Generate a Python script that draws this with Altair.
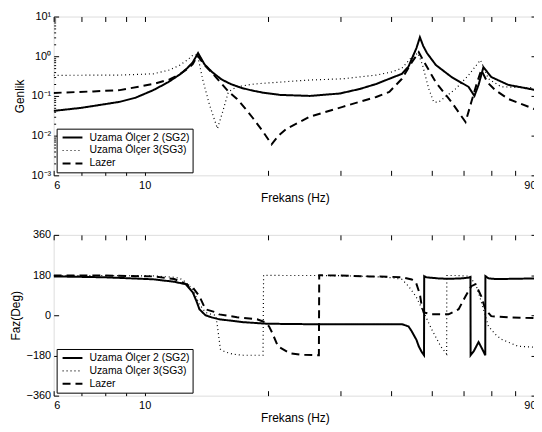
import altair as alt
import pandas as pd

SERIES = ["Uzama Ölçer 2 (SG2)", "Uzama Ölçer 3(SG3)", "Lazer"]

# ---------------- magnitude (Genlik) ----------------
mag_f_sg2 = [6.0, 7.0, 8.0, 8.7, 9.5, 10.5, 11.4, 12.2, 12.7, 13.1, 13.5, 14.0, 14.6, 15.4, 16.2, 17.2,
             18.1, 19.5, 21.4, 25.3, 29.9, 33.5, 36.7, 39.5, 42.4, 44.0, 44.8, 46.0, 46.9, 47.8, 48.8,
             51.3, 56.0, 61.6, 63.7, 65.2, 67.0, 70.0, 77.0, 90.0]
mag_sg2 = [0.042, 0.050, 0.062, 0.071, 0.090, 0.14, 0.22, 0.35, 0.50, 0.70, 1.2, 0.62, 0.40, 0.26, 0.20, 0.16,
           0.14, 0.12, 0.106, 0.10, 0.115, 0.15, 0.20, 0.27, 0.36, 0.55, 0.85, 1.6, 3.0, 1.8, 1.2,
           0.6, 0.30, 0.17, 0.10, 0.19, 0.53, 0.30, 0.19, 0.14]

mag_f_sg3 = [6.0, 8.7, 10.5, 11.5, 12.2, 12.8, 13.1, 13.45, 13.84, 14.39, 15.05, 15.5, 16.0, 16.8, 18.5,
             21.0, 25.0, 30.4, 36.7, 40.0, 42.4, 44.8, 46.4, 47.6, 49.3, 50.7, 52.1, 54.5, 57.3, 61.6,
             64.0, 65.9, 67.5, 68.9, 74.0, 80.0, 90.0]
mag_sg3 = [0.33, 0.335, 0.36, 0.45, 0.60, 0.85, 1.06, 1.1, 0.27, 0.06, 0.015, 0.04, 0.126, 0.17, 0.20,
           0.22, 0.25, 0.27, 0.335, 0.40, 0.50, 0.95, 1.2, 0.6, 0.15, 0.07, 0.07, 0.10, 0.15, 0.33,
           0.55, 0.80, 0.45, 0.27, 0.17, 0.165, 0.16]

mag_f_lz = [6.0, 7.5, 8.7, 10.5, 11.5, 12.2, 12.8, 13.1, 13.45, 14.0, 14.6, 15.3, 16.0, 16.8, 17.6, 18.4,
            19.4, 20.4, 21.2, 22.2, 25.3, 30.4, 35.3, 36.7, 39.5, 42.4, 44.8, 46.6, 48.5, 51.3, 56.0,
            60.6, 62.6, 64.5, 66.2, 68.5, 71.6, 77.0, 90.0]
mag_lz = [0.119, 0.13, 0.14, 0.20, 0.26, 0.355, 0.50, 0.63, 1.05, 0.60, 0.38, 0.22, 0.13, 0.084, 0.048, 0.027,
          0.013, 0.006, 0.010, 0.015, 0.030, 0.053, 0.084, 0.094, 0.126, 0.27, 0.70, 1.26, 0.60, 0.22, 0.07,
          0.022, 0.07, 0.20, 0.45, 0.22, 0.14, 0.084, 0.045]

# ---------------- phase (Faz) ----------------
ph_f_sg2 = [6.0, 8.0, 10.5, 11.8, 12.6, 13.1, 13.4, 13.6, 14.07, 14.6, 15.2, 17.4, 19.9, 25.0, 35.3, 42.4,
            44.0, 44.8, 46.0, 46.6, 47.4, 48.0, 48.05, 48.6, 52.0, 55.0, 59.0, 61.5, 62.3, 62.35, 63.5,
            65.2, 66.5, 67.7, 67.75, 69.0, 72.0, 90.0]
ph_sg2 = [174, 170, 161, 150, 139, 103, 60, 27, 0, -10, -18, -31, -38, -40, -40, -40,
          -50, -72, -110, -139, -165, -179, 175, 170, 165, 163, 165, 168, 172, -179, -160,
          -120, -150, -179, 175, 165, 162, 165]

ph_f_sg3 = [6.0, 8.0, 10.5, 11.8, 12.2, 12.6, 13.1, 13.6, 14.07, 14.6, 14.9, 15.05, 15.3, 15.74, 16.5,
            17.4, 19.44, 19.5, 22.0, 26.0, 30.0, 35.3, 40.0, 42.4, 44.0, 45.85, 47.94, 50.1, 52.7, 54.5,
            54.55, 58.0, 61.5, 62.3, 64.4, 66.2, 67.7, 68.9, 71.6, 74.0, 81.4, 90.0]
ph_sg3 = [178, 178, 176, 170, 165, 148, 116, 49, 13, 3, 0, -50, -152, -165, -175,
          -179, -179, 179, 178, 178, 177, 174, 168, 161, 130, 85, 13, -63, -139, -174,
          178, 178, 175, 170, 130, 60, 0, -49, -85, -107, -139, -143]

ph_f_lz = [6.0, 8.0, 10.5, 11.8, 12.2, 13.1, 13.6, 14.07, 14.9, 15.2, 16.8, 18.8, 19.66, 20.1, 20.44,
           21.14, 22.6, 24.0, 26.3, 26.6, 26.65, 30.0, 35.3, 40.0, 42.4, 44.8, 45.85, 46.9, 47.4, 47.9,
           50.1, 55.1, 58.3, 60.6, 62.6, 64.1, 66.2, 67.7, 70.0, 78.0, 90.0]
ph_lz = [178, 178, 174, 162, 152, 125, 85, 27, 13, 4, -9, -18, -31, -50, -76,
         -139, -170, -177, -179, -179, 179, 178, 174, 172, 170, 160, 148, 94, 40, 13,
         4, 4, 27, 85, 130, 139, 85, 27, -4, -10, -13]

# ---------------- ticks ----------------
x_tick_values = [6, 7, 8, 9, 10, 20, 30, 40, 50, 60, 70, 80, 90]
x_label_values = [6, 10, 90]
mag_tick_values = [0.001, 0.01, 0.1, 1, 10]
mag_tick_labels = ["10⁻³", "10⁻²", "10⁻¹", "10⁰", "10¹"]
minor_mult = [2, 3, 4, 5, 6, 7, 8, 9]
minor_decades = [0.001, 0.01, 0.1, 1]
ph_tick_values = [-360, -180, 0, 180, 360]
ph_tick_labels = ["−360", "−180", "0", "180", "360"]

FONT = "Liberation Sans"
W = 486


def frame(freqs, vals):
    rows = []
    for s, (f, v) in zip(SERIES, zip(freqs, vals)):
        for i, (a, b) in enumerate(zip(f, v)):
            rows.append({"f": a, "v": b, "series": s, "i": i})
    return pd.DataFrame(rows)


def label_expr(values, labels):
    parts = " : ".join(f"datum.value == {v} ? '{l}'" for v, l in zip(values, labels))
    return parts + " : ''"


x_scale = alt.Scale(type="log", domain=[6, 90], nice=False)

legend = alt.Legend(title=None, orient="bottom-left", offset=3, padding=3,
                    strokeColor="black", fillColor="white", symbolType="M-2,0H2",
                    symbolSize=100, symbolOffset=7, symbolStrokeColor="black", labelFont=FONT,
                    labelFontSize=10.5, labelColor="black", labelOffset=11, rowPadding=1,
                    labelLimit=300)


def axis_common():
    return dict(domain=False, grid=False, labelFont=FONT, titleFont=FONT,
                titleFontWeight="normal", labelColor="black", titleColor="black",
                tickColor="black")


def panel(df, y_scale, y_vals, y_labels, y_title, height, minor=None):
    x_bottom = alt.Axis(values=x_tick_values,
                        labelExpr=label_expr(x_label_values, [str(v) for v in x_label_values]),
                        title="Frekans (Hz)", tickSize=5, offset=-5,
                        labelPadding=4, titlePadding=2, labelFontSize=11, titleFontSize=12,
                        **axis_common())
    y_left = alt.Axis(values=y_vals, labelExpr=label_expr(y_vals, y_labels), title=y_title,
                      tickSize=5, offset=-5, labelPadding=3,
                      titlePadding=4, labelFontSize=11, titleFontSize=12, **axis_common())
    lines = alt.Chart(df).mark_line(clip=True, strokeJoin="miter").encode(
        x=alt.X("f:Q", scale=x_scale, axis=x_bottom),
        y=alt.Y("v:Q", scale=y_scale, axis=y_left),
        strokeDash=alt.StrokeDash("series:N", scale=alt.Scale(domain=SERIES, range=[[1, 0], [1, 3], [8, 5]]),
                                  legend=legend),
        strokeWidth=alt.StrokeWidth("series:N",
                                    scale=alt.Scale(type="ordinal", domain=SERIES, range=[2, 1.2, 2]),
                                    legend=legend),
        color=alt.value("black"),
        order="i:Q",
    )
    box = alt.Chart(df).mark_line(opacity=0).encode(
        x=alt.X("f:Q", scale=x_scale,
                axis=alt.Axis(orient="top", values=x_tick_values, labels=False, title=None,
                              tickSize=5, offset=-5, **axis_common())),
        y=alt.Y("v:Q", scale=y_scale,
                axis=alt.Axis(orient="right", values=y_vals, labels=False, title=None,
                              tickSize=5, offset=-5, **axis_common())),
    )
    layers = [lines, box]
    if minor:
        for side in ["left", "right"]:
            layers.append(alt.Chart(df).mark_line(opacity=0).encode(
                x=alt.X("f:Q", scale=x_scale, axis=None),
                y=alt.Y("v:Q", scale=y_scale,
                        axis=alt.Axis(orient=side, values=minor, labels=False, title=None,
                                      tickSize=2, offset=-2, **axis_common())),
            ))
    return alt.layer(*layers).resolve_axis(x="independent", y="independent").properties(
        width=W, height=height)


mag_df = frame([mag_f_sg2, mag_f_sg3, mag_f_lz], [mag_sg2, mag_sg3, mag_lz])
ph_df = frame([ph_f_sg2, ph_f_sg3, ph_f_lz], [ph_sg2, ph_sg3, ph_lz])

minor_vals = [d * m for d in minor_decades for m in minor_mult]

top = panel(mag_df, alt.Scale(type="log", domain=[0.001, 10], nice=False),
            mag_tick_values, mag_tick_labels, "Genlik", 160, minor=minor_vals)
bottom = panel(ph_df, alt.Scale(domain=[-360, 360], nice=False, zero=False),
               ph_tick_values, ph_tick_labels, "Faz(Deg)", 162)

chart = alt.vconcat(top, bottom, spacing=24).resolve_scale(
    strokeDash="independent", strokeWidth="independent"
).resolve_legend(strokeDash="independent", strokeWidth="independent").properties(
    padding={"left": 0, "top": 0, "right": -3, "bottom": 0}
).configure_view(stroke="black", strokeWidth=1).configure(background="white")

chart.save("out.html", embed_options={"renderer": "svg", "actions": False})
